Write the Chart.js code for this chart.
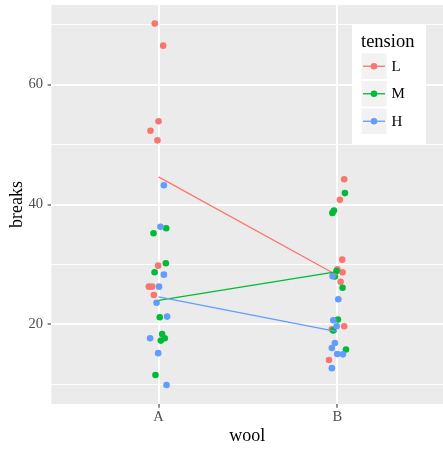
<!DOCTYPE html>
<html>
<head>
<meta charset="utf-8">
<script src="https://cdn.jsdelivr.net/npm/chart.js@4"></script>
<style>
html,body{margin:0;padding:0;background:#fff;}
canvas{display:block;}
</style>
</head>
<body>
<canvas id="c" width="443" height="449"></canvas>
<script>
// ---- data ----
const wool = ['A', 'B'];
const tensions = ['L', 'M', 'H'];
const colors = ['#F8766D', '#00BA38', '#619CFF'];
const yTicks = [20, 40, 60];

// jittered positions (x in category units: A = 1, B = 2)
const L_x = [0.979, 1.026, 1.000, 0.955, 0.994, 0.998, 0.946, 0.964, 0.974, 2.039, 2.015, 2.028, 2.001, 2.030, 2.019, 2.039, 1.970, 1.954];
const L_y = [70.2, 66.5, 53.9, 52.3, 50.7, 29.8, 26.3, 26.3, 24.9, 44.2, 40.8, 30.8, 29.2, 28.7, 27.1, 19.7, 19.2, 14.05];
const M_x = [1.043, 0.972, 1.041, 0.978, 1.007, 1.020, 1.035, 1.013, 0.983, 2.043, 1.973, 1.982, 1.996, 1.987, 2.030, 2.004, 1.978, 2.049];
const M_y = [36.05, 35.2, 30.2, 28.7, 21.2, 18.4, 17.7, 17.3, 11.55, 41.9, 38.6, 39.0, 28.9, 28.0, 26.1, 20.8, 19.0, 15.8];
const H_x = [1.030, 1.011, 1.030, 1.003, 0.989, 1.048, 0.953, 0.998, 1.045, 1.974, 2.006, 1.978, 1.997, 1.987, 1.970, 2.000, 2.032, 1.970];
const H_y = [43.2, 36.3, 28.3, 26.3, 23.6, 21.3, 17.7, 15.2, 9.9, 28.05, 24.2, 20.7, 19.7, 16.9, 16.05, 15.05, 15.0, 12.7];
// group means per wool (A, B)
const L_mean = [44.6, 28.2];
const M_mean = [24.0, 28.8];
const H_mean = [24.6, 18.8];

const ptsX = [L_x, M_x, H_x];
const ptsY = [L_y, M_y, H_y];
const means = [L_mean, M_mean, H_mean];

const SERIF = '"Liberation Serif", "Times New Roman", serif';

const datasets = [];
tensions.forEach((t, i) => {
  datasets.push({
    type: 'scatter',
    label: t,
    data: ptsX[i].map((x, k) => ({x: x, y: ptsY[i][k]})),
    backgroundColor: colors[i],
    borderWidth: 0,
    pointRadius: 3.3,
    pointHoverRadius: 3.3,
    order: 6 - i
  });
});
tensions.forEach((t, i) => {
  datasets.push({
    type: 'line',
    label: t + ' mean',
    data: wool.map((w, k) => ({x: k + 1, y: means[i][k]})),
    borderColor: colors[i],
    borderWidth: 1.3,
    pointRadius: 0,
    fill: false,
    order: 3 - i
  });
});

const bgPlugin = {
  id: 'panelBg',
  beforeDraw(chart) {
    const {ctx, chartArea: a} = chart;
    ctx.save();
    ctx.fillStyle = '#fff';
    ctx.fillRect(0, 0, chart.width, chart.height);
    ctx.fillStyle = '#EBEBEB';
    ctx.fillRect(a.left, a.top, a.right - a.left, a.bottom - a.top);
    ctx.restore();
  }
};

const legendPlugin = {
  id: 'ggLegend',
  afterDraw(chart) {
    const ctx = chart.ctx;
    ctx.save();
    const bx = 352, by = 25, bw = 74, bh = 119;
    ctx.fillStyle = '#fff';
    ctx.fillRect(bx, by, bw, bh);
    ctx.fillStyle = '#000';
    ctx.font = '18.5px ' + SERIF;
    ctx.textBaseline = 'alphabetic';
    ctx.textAlign = 'left';
    ctx.fillText('tension', 361, 46.5);
    const keyX = 361.5, keyW = 25, keyH = 25.5;
    const keyYs = [53.5, 81, 108.5];
    tensions.forEach((t, i) => {
      const ky = keyYs[i];
      ctx.fillStyle = '#F2F2F2';
      ctx.fillRect(keyX, ky, keyW, keyH);
      const cy = ky + keyH / 2, cx = keyX + keyW / 2;
      ctx.strokeStyle = colors[i];
      ctx.lineWidth = 1.3;
      ctx.beginPath();
      ctx.moveTo(keyX + 1.5, cy);
      ctx.lineTo(keyX + keyW - 1.5, cy);
      ctx.stroke();
      ctx.fillStyle = colors[i];
      ctx.beginPath();
      ctx.arc(cx, cy, 3.3, 0, Math.PI * 2);
      ctx.fill();
      ctx.fillStyle = '#000';
      ctx.font = '15px ' + SERIF;
      ctx.textBaseline = 'middle';
      ctx.fillText(t, 391.5, cy + 0.5);
    });
    ctx.restore();
  }
};

new Chart(document.getElementById('c'), {
  data: {datasets: datasets},
  options: {
    responsive: false,
    animation: false,
    devicePixelRatio: 1,
    layout: {autoPadding: false, padding: {top: 5, right: 0, left: 0, bottom: 0}},
    plugins: {legend: {display: false}, tooltip: {enabled: false}},
    scales: {
      x: {
        type: 'linear',
        min: 0.4,
        max: 2.592,
        afterFit(s) { s.height = 45; s.paddingLeft = 0; s.paddingRight = 0; },
        afterBuildTicks(s) { s.ticks = wool.map((w, k) => ({value: k + 1})); },
        border: {display: false},
        grid: {
          color: '#FFFFFF',
          lineWidth: 2,
          drawTicks: true,
          tickLength: 3.7,
          tickColor: '#333333',
          tickWidth: 1.1
        },
        ticks: {
          color: '#4D4D4D',
          font: {family: SERIF, size: 14.5, lineHeight: 1.2},
          padding: 0.5,
          maxRotation: 0,
          callback: (v) => wool[Math.round(v) - 1]
        },
        title: {
          display: true,
          text: 'wool',
          color: '#000',
          font: {family: SERIF, size: 18, lineHeight: 1.2},
          padding: {top: 0, bottom: 2.2}
        }
      },
      y: {
        type: 'linear',
        min: 6.72,
        max: 73.28,
        afterFit(s) { s.width = 51.3; s.paddingTop = 0; s.paddingBottom = 0; },
        afterBuildTicks(s) { s.ticks = [10, 20, 30, 40, 50, 60, 70].map(v => ({value: v})); },
        border: {display: false},
        grid: {
          color: '#FFFFFF',
          lineWidth: (c) => (yTicks.includes(c.tick && c.tick.value) ? 2 : 1.1),
          drawTicks: true,
          tickLength: 3.7,
          tickColor: (c) => (yTicks.includes(c.tick && c.tick.value) ? '#333333' : 'rgba(0,0,0,0)'),
          tickWidth: 1.1
        },
        ticks: {
          color: '#4D4D4D',
          font: {family: SERIF, size: 14.5, lineHeight: 1.2},
          padding: 4.5,
          callback: (v) => (yTicks.includes(v) ? String(v) : '')
        },
        title: {
          display: true,
          text: 'breaks',
          color: '#000',
          font: {family: SERIF, size: 18, lineHeight: 1.2},
          padding: {top: 6.2, bottom: 0}
        }
      }
    }
  },
  plugins: [bgPlugin, legendPlugin]
});
</script>
</body>
</html>
